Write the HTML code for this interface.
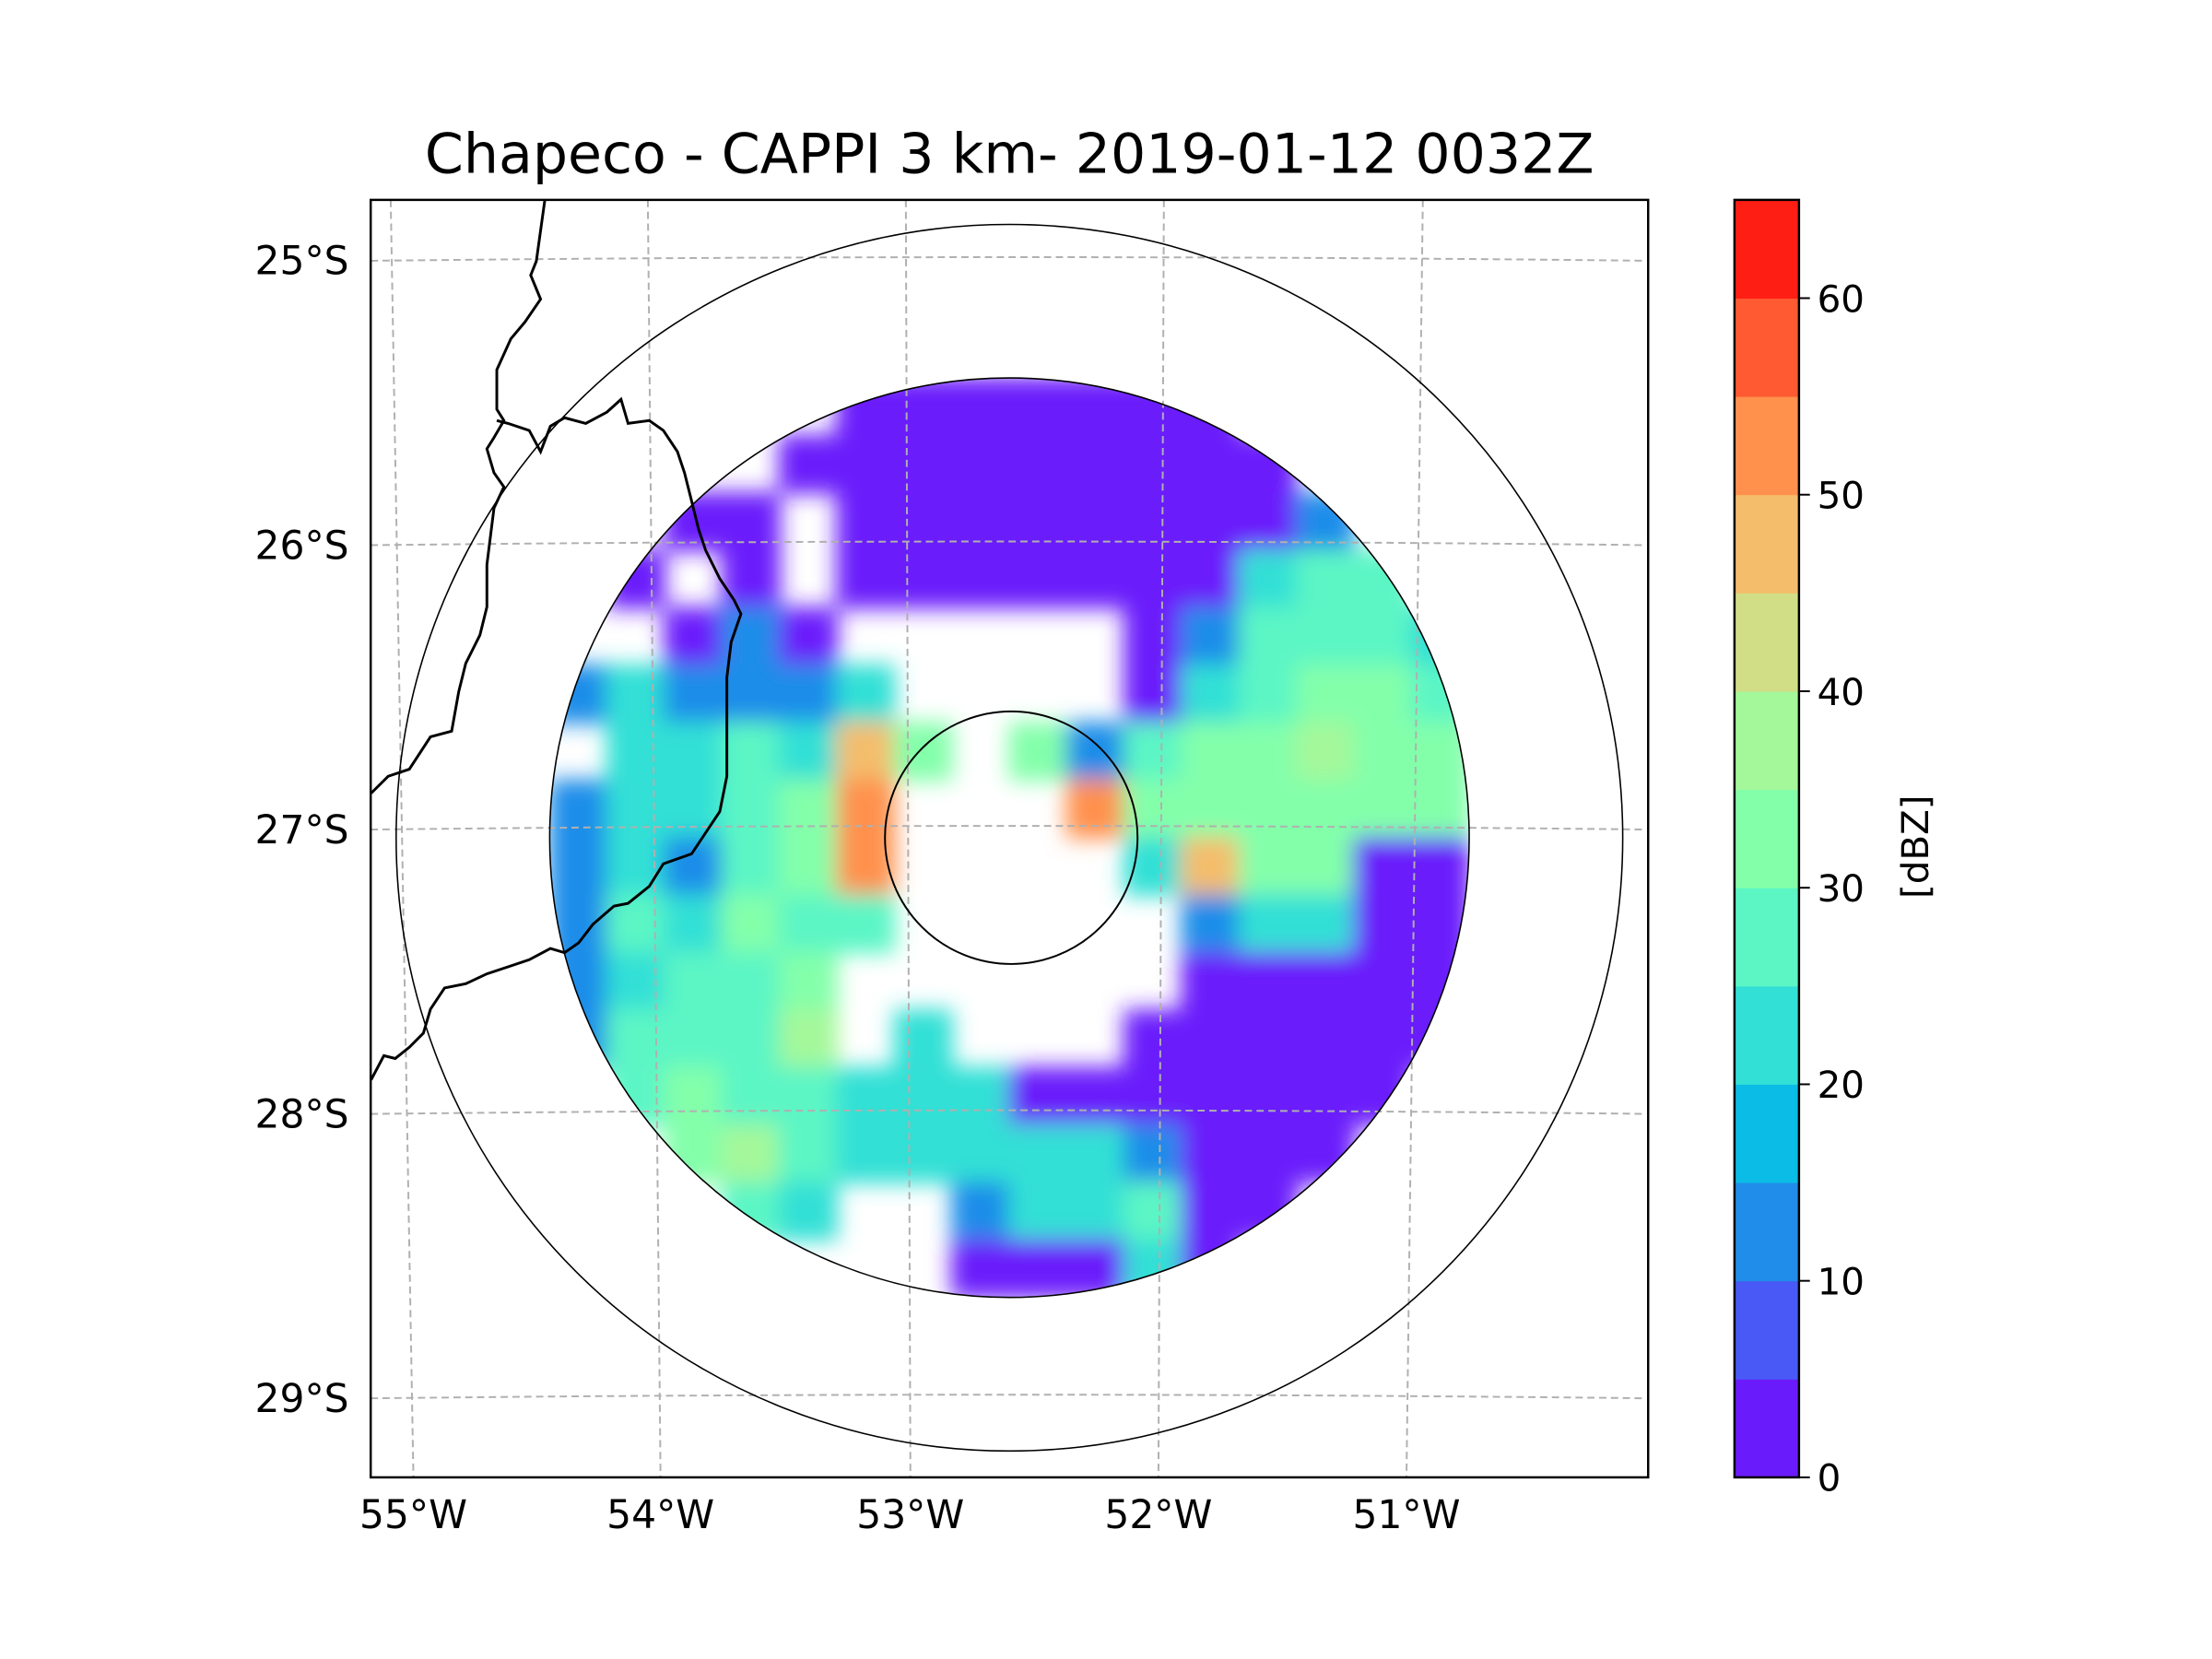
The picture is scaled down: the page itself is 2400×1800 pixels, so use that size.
<!DOCTYPE html>
<html><head><meta charset="utf-8">
<style>
html,body{margin:0;padding:0;background:#fff;}
svg{display:block;font-family:"DejaVu Sans","Liberation Sans",sans-serif;}
</style></head>
<body>
<svg id="fig" width="2400" height="1800" viewBox="0 0 2400 1800">
<defs>
<clipPath id="axclip"><rect x="408" y="220" width="1406" height="1406"/></clipPath>
<clipPath id="diskclip"><circle cx="1111" cy="922" r="506"/></clipPath>
<filter id="soft" x="-5%" y="-5%" width="110%" height="110%"><feGaussianBlur stdDeviation="12"/></filter>
</defs>
<g transform="scale(0.9858)">
<text x="1111" y="190" font-size="61" text-anchor="middle">Chapeco - CAPPI 3 km- 2019-01-12 0032Z</text>
<g id="plot" clip-path="url(#axclip)">
<g id="radar" clip-path="url(#diskclip)"><g id="cells" filter="url(#soft)"></g></g>
<g id="grid"></g>
<g id="coast"></g>
<circle cx="1111" cy="922" r="675" fill="none" stroke="#000" stroke-width="1.6"/>
<circle cx="1111" cy="922" r="506" fill="none" stroke="#000" stroke-width="1.6"/>
<circle cx="1113" cy="922" r="139" fill="none" stroke="#000" stroke-width="2"/>
</g>
<rect x="408" y="220" width="1406" height="1406" fill="none" stroke="#000" stroke-width="2.5"/>
<g id="ticks" font-size="43"></g>
<g id="cbar"></g>
<text transform="translate(2122,932) rotate(-90)" font-size="41" text-anchor="middle">[dBZ]</text>
</g>
</svg>
<script>
// colour scale
const levels = [0,5,10,15,20,25,30,35,40,45,50,55,60,65];
const colors = ["#6a1bfb","#4959f6","#1f8de9","#0bbce6","#33e0d5","#5cf6c5","#83ffaa","#a4f89a","#d1de86","#f4bd6c","#ff914d","#ff5a32","#ff1e14"];
const cbTicks = [0,10,20,30,40,50,60];
// graticule
const latTicks = [25,26,27,28,29];
const lonTicks = [55,54,53,52,51];
// reflectivity grid (dBZ, -1 = no echo), rows north->south, cols west->east
const dbzRows = [
[-1,-1,-1,-1,-1,2,2,2,2,2,2,2,-1,-1,-1,-1],
[-1,-1,-1,-1,2,2,2,2,2,2,2,2,2,-1,-1,-1],
[-1,-1,2,2,-1,2,2,2,2,2,2,2,2,10,-1,-1],
[-1,2,-1,2,-1,2,2,2,2,2,2,2,20,27,27,-1],
[-1,-1,2,10,2,-1,-1,-1,-1,-1,2,10,27,27,27,20],
[10,20,10,10,10,20,-1,-1,-1,-1,2,20,27,32,32,27],
[-1,20,20,27,20,48,32,-1,32,10,27,32,32,37,32,32],
[10,20,20,27,32,50,-1,-1,-1,50,32,32,32,32,32,32],
[10,20,10,27,32,50,-1,-1,-1,-1,20,48,32,32,2,2],
[10,27,20,32,27,27,-1,-1,-1,-1,-1,10,20,20,2,2],
[10,20,27,27,32,-1,-1,-1,-1,-1,-1,2,2,2,2,2],
[10,27,27,27,37,-1,20,-1,-1,-1,2,2,2,2,2,2],
[-1,27,32,27,27,20,20,20,2,2,2,2,2,2,2,-1],
[-1,-1,32,37,27,20,20,20,20,20,10,2,2,2,-1,-1],
[-1,-1,-1,27,20,-1,-1,10,20,20,27,2,2,-1,-1,-1],
[-1,-1,-1,-1,-1,-1,-1,2,2,2,20,2,-1,-1,-1,-1]
];
const NS="http://www.w3.org/2000/svg";
function mk(tag, attrs, parent){const e=document.createElementNS(NS,tag);for(const k in attrs)e.setAttribute(k,attrs[k]);parent.appendChild(e);return e;}
function colorFor(v){for(let i=levels.length-2;i>=0;i--){if(v>=levels[i])return colors[i];}return colors[0];}
const cx=1111, cy=922, R=506;
const cell = 2*R/16;
function gx(j){return cx-R+j*cell;}
function gy(i){return cy-R+i*cell;}
const cellsG=document.getElementById('cells');
dbzRows.forEach((row,i)=>row.forEach((v,j)=>{
  if(v<0) return;
  const r=mk('rect',{x:gx(j)-1,y:gy(i)-1,width:cell+2,height:cell+2,fill:colorFor(v)},cellsG);
  
  
}));
function latY(lat, x){const base=287+(lat-25)*313; const d=(x-1111)/700; return base-4*(1-d*d);}
function lonX(lon, y){const xb={55:455,54:727,53:1002,52:1275,51:1548}; const xt={55:430,54:713,53:997,52:1281,51:1566}; return xt[lon]+(xb[lon]-xt[lon])*(y-220)/1406;}
const gridG=document.getElementById('grid');
latTicks.forEach(lat=>{
  let d='';for(let x=408;x<=1814;x+=20){d+=(x===408?'M':'L')+x+','+latY(lat,x).toFixed(1);}
  const p=mk('path',{d:d,fill:'none',stroke:'#b0b0b0','stroke-width':2,'stroke-dasharray':'8,5'},gridG);
  
  
});
lonTicks.forEach(lon=>{
  const p=mk('line',{x1:lonX(lon,220),y1:220,x2:lonX(lon,1626),y2:1626,stroke:'#b0b0b0','stroke-width':2,'stroke-dasharray':'8,5'},gridG);
  
  
});
const tG=document.getElementById('ticks');
latTicks.forEach(lat=>{
  const t=mk('text',{x:384,y:latY(lat,408)+15,'text-anchor':'end'},tG);t.textContent=lat+'°S';
  
  
});
lonTicks.forEach(lon=>{
  const t=mk('text',{x:lonX(lon,1626),y:1682,'text-anchor':'middle'},tG);t.textContent=lon+'°W';
  
  
});
const s=1.5534;
const line1=[[386,142],[380,185],[376,195],[383,212],[372,228],[362,240],[352,262],[352,290],[357,298],[350,310],[345,318],[350,335],[357,345],[350,360],[345,400],[345,430],[340,450],[330,470],[325,490],[320,518],[305,522],[290,545],[275,550],[263,562]];
const line2=[[352,298],[360,300],[375,305],[383,320],[390,302],[400,296],[415,300],[430,292],[440,283],[445,300],[460,298],[470,305],[480,320],[485,335],[490,355],[495,375],[500,390],[510,410],[520,425],[525,435],[518,455],[515,480],[515,550],[510,575],[500,590],[490,605],[470,612],[460,628],[445,640],[435,642],[420,655],[410,668],[400,675],[390,672],[375,680],[360,685],[345,690],[330,697],[315,700],[305,715],[300,732],[290,742],[280,750],[272,748],[263,765]];
const coastG=document.getElementById('coast');
[line1,line2].forEach(l=>{
  const p=mk('polyline',{points:l.map(q=>(q[0]*s).toFixed(1)+','+(q[1]*s).toFixed(1)).join(' '),fill:'none',stroke:'#000','stroke-width':3},coastG);
  
  
});
const cbG=document.getElementById('cbar');
const cbX=1909, cbW=71, cbTop=220, cbBot=1626;
function cbY(v){return cbBot-(v-levels[0])/(levels[levels.length-1]-levels[0])*(cbBot-cbTop);}
colors.forEach((c,i)=>{
  const r=mk('rect',{x:cbX,y:cbY(levels[i+1]),width:cbW,height:cbY(levels[i])-cbY(levels[i+1])+0.5,fill:c},cbG);
  
  
});
mk('rect',{x:cbX,y:cbTop,width:cbW,height:cbBot-cbTop,fill:'none',stroke:'#000','stroke-width':2.5},cbG);
cbTicks.forEach(v=>{
  mk('line',{x1:cbX+cbW,x2:cbX+cbW+12,y1:cbY(v),y2:cbY(v),stroke:'#000','stroke-width':2},cbG);
  const t=mk('text',{x:cbX+cbW+20,y:cbY(v)+15,'font-size':41},cbG);t.textContent=v;
  
  
});
</script>
</body></html>
